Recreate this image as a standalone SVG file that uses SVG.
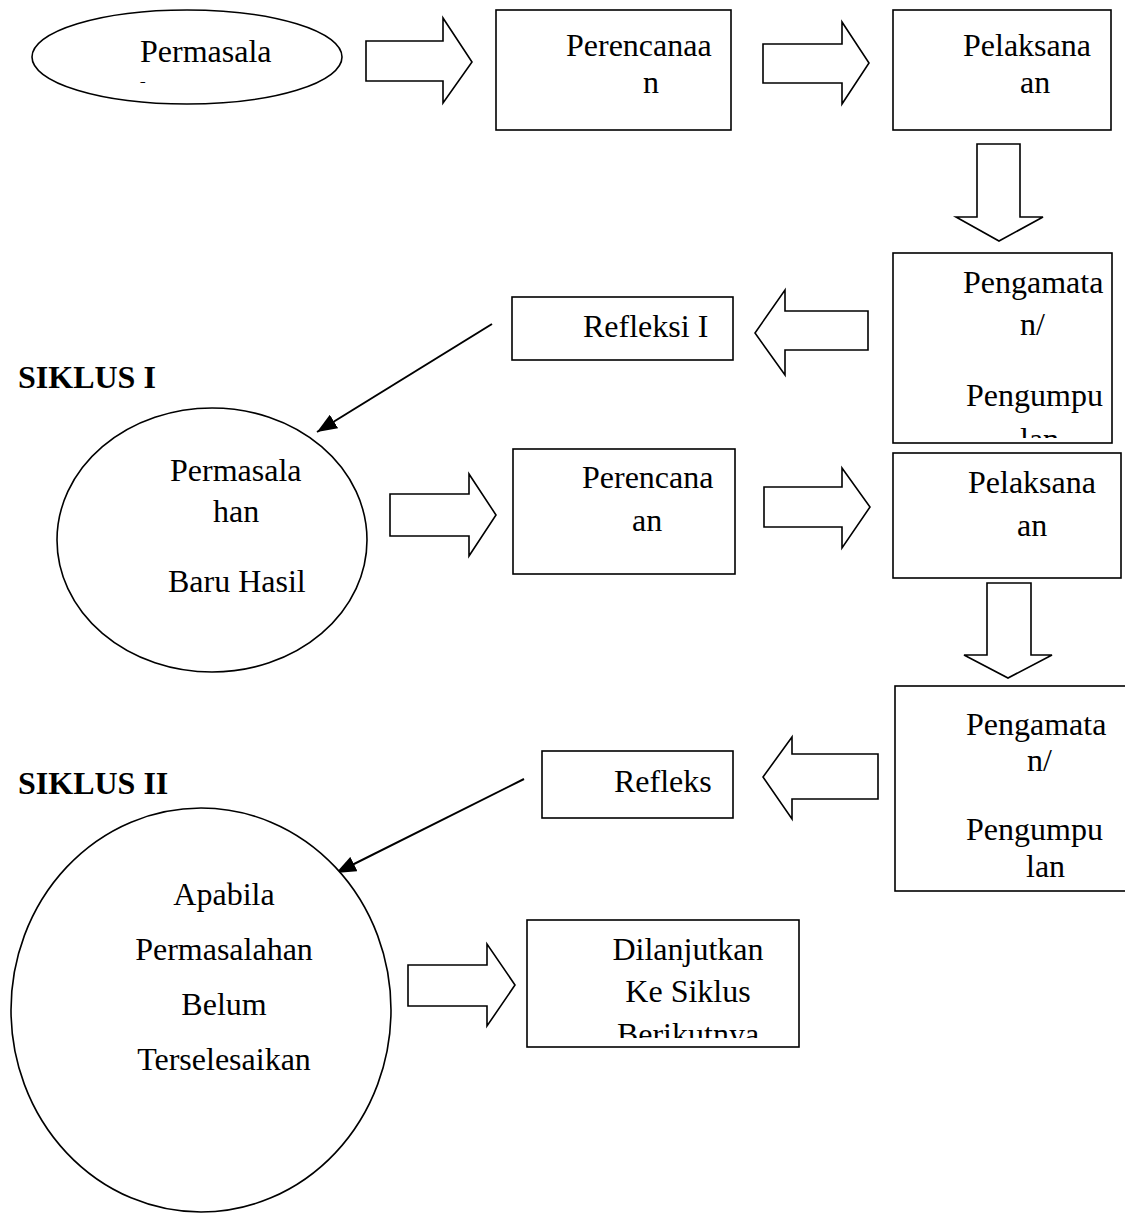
<svg xmlns="http://www.w3.org/2000/svg" width="1125" height="1214" viewBox="0 0 1125 1214">
<style>
.s{fill:#fff;stroke:#000;stroke-width:1.6}
.t{font-family:"Liberation Serif","Times New Roman",serif;font-size:32px;fill:#000}
.b{font-family:"Liberation Serif","Times New Roman",serif;font-size:32px;font-weight:bold;fill:#000}
.c{stroke:#000;stroke-width:2;fill:none}
</style>
<defs>
<marker id="ah" markerUnits="userSpaceOnUse" markerWidth="22" markerHeight="16" refX="20" refY="8" orient="auto">
<path d="M0,0 L20,8 L0,16 Z" fill="#000"/>
</marker>
<clipPath id="clipE1"><rect x="100" y="20" width="220" height="63"/></clipPath>
<clipPath id="clipG1"><rect x="900" y="258" width="210" height="180"/></clipPath>
<clipPath id="clipD"><rect x="530" y="924" width="265" height="114"/></clipPath>
</defs>

<rect width="1125" height="1214" fill="#fff"/>

<g id="connectors">
<path class="s" d="M366,41 H443 V18 L472,62 L443,103 V81 H366 Z"/>
<path class="s" d="M763,44 H842 V22 L869,63 L842,104 V83 H763 Z"/>
<path class="s" d="M977,144 H1020 V217 H1043 L999,241 L956,217 H977 Z"/>
<path class="s" d="M868,311 H785 V290 L755,333 L785,375 V350 H868 Z"/>
<line class="c" x1="492" y1="324" x2="317" y2="432" marker-end="url(#ah)"/>
<path class="s" d="M390,494 H469 V474 L496,515 L469,556 V536 H390 Z"/>
<path class="s" d="M764,487 H842 V468 L870,507 L842,548 V527 H764 Z"/>
<path class="s" d="M987,583 H1031 V655 H1052 L1008,678 L964,655 H987 Z"/>
<path class="s" d="M878,754 H792 V737 L763,777 L792,819 V799 H878 Z"/>
<line class="c" x1="524" y1="779" x2="336" y2="873" marker-end="url(#ah)"/>
<path class="s" d="M408,965 H487 V944 L515,985 L487,1026 V1006 H408 Z"/>
</g>

<g id="permasalahan1">
<ellipse class="s" cx="187" cy="57" rx="155" ry="47"/>
<text class="t" x="140" y="62">Permasala</text>
<text class="t" x="140" y="104" clip-path="url(#clipE1)">han</text>
</g>

<g id="perencanaan1">
<rect class="s" x="496" y="10" width="235" height="120"/>
<text class="t" x="566" y="56">Perencanaa</text>
<text class="t" x="643" y="93">n</text>
</g>

<g id="pelaksanaan1">
<rect class="s" x="893" y="10" width="218" height="120"/>
<text class="t" x="963" y="56">Pelaksana</text>
<text class="t" x="1020" y="93">an</text>
</g>

<g id="pengamatan1">
<rect class="s" x="893" y="253" width="219" height="190"/>
<text class="t" x="963" y="293">Pengamata</text>
<text class="t" x="1020" y="335">n/</text>
<text class="t" x="966" y="406">Pengumpu</text>
<text class="t" x="1020" y="450" clip-path="url(#clipG1)">lan</text>
</g>

<g id="refleksi1">
<rect class="s" x="512" y="297" width="221" height="63"/>
<text class="t" x="583" y="337">Refleksi I</text>
</g>

<g id="siklus1"><text class="b" x="18" y="388">SIKLUS I</text></g>

<g id="permasalahan2">
<ellipse class="s" cx="212" cy="540" rx="155" ry="132"/>
<text class="t" x="170" y="481">Permasala</text>
<text class="t" x="213" y="522">han</text>
<text class="t" x="168" y="592">Baru Hasil</text>
</g>

<g id="perencanaan2">
<rect class="s" x="513" y="449" width="222" height="125"/>
<text class="t" x="582" y="488">Perencana</text>
<text class="t" x="632" y="531">an</text>
</g>

<g id="pelaksanaan2">
<rect class="s" x="893" y="453" width="228" height="125"/>
<text class="t" x="968" y="493">Pelaksana</text>
<text class="t" x="1017" y="536">an</text>
</g>

<g id="pengamatan2">
<rect class="s" x="895" y="686" width="240" height="205"/>
<text class="t" x="966" y="735">Pengamata</text>
<text class="t" x="1027" y="771">n/</text>
<text class="t" x="966" y="840">Pengumpu</text>
<text class="t" x="1026" y="877">lan</text>
</g>

<g id="refleksi2">
<rect class="s" x="542" y="751" width="191" height="67"/>
<text class="t" x="614" y="792">Refleks</text>
</g>

<g id="siklus2"><text class="b" x="18" y="794">SIKLUS II</text></g>

<g id="apabila">
<ellipse class="s" cx="201" cy="1010" rx="190" ry="202"/>
<text class="t" x="224" y="905" text-anchor="middle">Apabila</text>
<text class="t" x="224" y="960" text-anchor="middle">Permasalahan</text>
<text class="t" x="224" y="1015" text-anchor="middle">Belum</text>
<text class="t" x="224" y="1070" text-anchor="middle">Terselesaikan</text>
</g>

<g id="dilanjutkan">
<rect class="s" x="527" y="920" width="272" height="127"/>
<text class="t" x="688" y="960" text-anchor="middle">Dilanjutkan</text>
<text class="t" x="688" y="1002" text-anchor="middle">Ke Siklus</text>
<text class="t" x="688" y="1045" text-anchor="middle" clip-path="url(#clipD)">Berikutnya</text>
</g>
</svg>
